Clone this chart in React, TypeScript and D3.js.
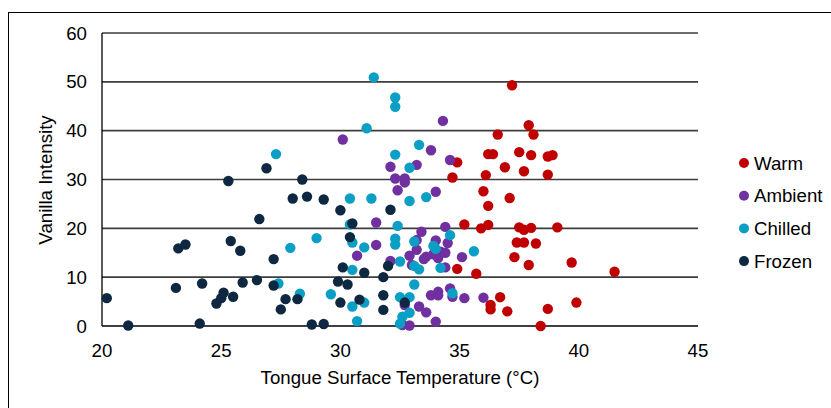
import React from "react";
import * as d3 from "d3";

// temperatures (°C) and vanilla intensity
const warmTemp = [37.2, 37.9, 38.1, 36.6, 36.2, 36.4, 37.5, 38.0, 38.7, 38.9, 34.9, 36.9, 37.7, 34.7, 36.1, 38.7, 36.0, 37.1, 36.2, 35.2, 35.9, 36.2, 37.5, 37.7, 38.0, 39.1, 37.4, 37.7, 38.2, 37.3, 37.9, 39.7, 41.5, 34.9, 35.7, 36.7, 36.3, 36.3, 37.0, 38.7, 39.9, 38.4];
const warmIntensity = [49.3, 41.1, 39.2, 39.2, 35.2, 35.2, 35.6, 35.0, 34.7, 35.0, 33.5, 32.5, 31.7, 30.4, 30.9, 31.0, 27.6, 26.2, 24.6, 20.8, 20.0, 20.7, 20.2, 19.7, 20.1, 20.2, 17.1, 17.1, 16.9, 14.1, 12.5, 13.0, 11.1, 11.7, 10.7, 5.9, 4.3, 3.4, 3.0, 3.5, 4.8, 0.0];

const ambientTemp = [30.1, 33.8, 34.3, 32.1, 33.2, 34.6, 32.3, 32.7, 32.7, 32.4, 34.0, 31.5, 33.4, 34.4, 31.5, 30.7, 32.1, 32.9, 33.2, 33.6, 33.9, 33.0, 33.5, 34.0, 34.5, 34.2, 34.4, 35.1, 34.1, 34.4, 33.8, 34.1, 34.1, 34.6, 34.7, 35.2, 36.0, 32.7, 33.3, 33.6, 34.0, 32.9, 32.6, 33.2];
const ambientIntensity = [38.2, 36.0, 42.0, 32.6, 33.0, 34.0, 30.2, 30.2, 29.4, 27.8, 27.5, 21.2, 19.3, 20.3, 16.6, 14.4, 13.3, 14.4, 15.6, 14.2, 14.7, 12.5, 13.7, 17.5, 17.0, 15.2, 15.0, 14.1, 13.9, 12.0, 6.3, 7.0, 6.3, 7.7, 6.0, 5.7, 5.8, 4.3, 4.0, 2.8, 0.9, 0.1, 0.2, 17.6];

const chilledTemp = [31.4, 32.3, 32.3, 31.1, 27.3, 32.3, 33.3, 32.9, 30.4, 31.3, 32.9, 33.6, 32.4, 29.0, 27.9, 30.5, 31.0, 32.3, 32.3, 30.4, 33.1, 33.9, 34.6, 34.0, 35.6, 32.5, 30.5, 33.1, 33.3, 34.2, 27.4, 29.6, 28.3, 30.5, 31.0, 30.7, 33.1, 32.5, 32.9, 34.7, 32.5, 32.6, 32.9];
const chilledIntensity = [50.9, 46.8, 44.9, 40.5, 35.2, 35.1, 37.1, 32.4, 26.1, 26.1, 25.6, 26.4, 20.5, 18.0, 16.0, 17.1, 16.1, 17.9, 16.7, 20.8, 17.3, 16.4, 18.6, 15.8, 15.3, 13.2, 11.5, 12.3, 11.6, 11.9, 8.7, 6.5, 6.6, 4.0, 4.8, 1.0, 8.5, 5.9, 5.9, 6.7, 0.5, 1.9, 2.7];

const frozenTemp = [20.2, 21.1, 23.1, 23.2, 23.5, 24.1, 24.2, 24.8, 25.0, 25.1, 25.5, 25.4, 25.8, 26.6, 25.9, 26.5, 27.2, 27.2, 25.3, 26.9, 28.4, 28.0, 28.6, 29.3, 30.0, 32.1, 30.5, 30.4, 30.1, 31.0, 32.0, 31.8, 29.9, 30.3, 27.7, 28.2, 27.5, 30.0, 30.8, 31.8, 31.8, 32.7, 28.8, 29.3];
const frozenIntensity = [5.7, 0.1, 7.8, 15.9, 16.7, 0.5, 8.7, 4.6, 5.7, 6.8, 6.0, 17.4, 15.4, 21.9, 8.9, 9.4, 13.7, 8.3, 29.7, 32.3, 30.0, 26.1, 26.5, 25.9, 23.7, 23.8, 21.0, 18.2, 12.0, 10.9, 12.3, 10.0, 9.1, 8.5, 5.5, 5.5, 3.4, 4.8, 5.4, 6.3, 3.3, 4.8, 0.3, 0.4];

const seriesNames = ["Warm", "Ambient", "Chilled", "Frozen"];
const seriesColors = ["#C00000", "#7030A0", "#0C9FC6", "#0E2841"];
const xTicks = [20, 25, 30, 35, 40, 45];
const yTicks = [0, 10, 20, 30, 40, 50, 60];

const W = 831;
const H = 408;
const FONT = "'Liberation Sans', Arial, sans-serif";

export default function App() {
  const x = d3.scaleLinear().domain([20, 45]).range([102, 698]);
  const y = d3.scaleLinear().domain([0, 60]).range([326, 33]);

  const series = [
    [warmTemp, warmIntensity],
    [ambientTemp, ambientIntensity],
    [chilledTemp, chilledIntensity],
    [frozenTemp, frozenIntensity],
  ].map(([xs, ys], i) => ({
    name: seriesNames[i],
    color: seriesColors[i],
    points: d3.zip(xs, ys),
  }));

  return (
    <div style={{ position: "fixed", left: 0, top: 0 }}>
      <svg width={W} height={H} style={{ display: "block", background: "#fff" }} fontFamily={FONT}>
        {/* chart area border, runs past the window */}
        <rect x={8.5} y={12.5} width={1000} height={1000} fill="#fff" stroke="#000" strokeWidth={1} />

        {/* gridlines */}
        {yTicks.slice(1).map((t) => (
          <line key={t} x1={x(20)} x2={x(45)} y1={y(t)} y2={y(t)} stroke="#3d3d3d" strokeWidth={1.6} />
        ))}
        {/* axes */}
        <line x1={x(20)} x2={x(20)} y1={y(60)} y2={y(0)} stroke="#000" strokeWidth={1.3} />
        <line x1={x(20)} x2={x(45)} y1={y(0)} y2={y(0)} stroke="#000" strokeWidth={1.3} />

        {/* tick labels */}
        {yTicks.map((t) => (
          <text key={t} x={87} y={y(t)} dy="0.35em" textAnchor="end" fontSize={18.67} fill="#000">
            {t}
          </text>
        ))}
        {xTicks.map((t) => (
          <text key={t} x={x(t)} y={357} textAnchor="middle" fontSize={18.67} fill="#000">
            {t}
          </text>
        ))}

        {/* axis titles */}
        <text x={400} y={384} textAnchor="middle" fontSize={18.67} fill="#000">
          Tongue Surface Temperature (°C)
        </text>
        <text
          transform={`translate(52,180) rotate(-90)`}
          textAnchor="middle"
          fontSize={18.67}
          fill="#000"
        >
          Vanilla Intensity
        </text>

        {/* points */}
        {series.map((s) => (
          <g key={s.name} fill={s.color}>
            {s.points.map(([a, b], i) => (
              <circle key={i} cx={x(a)} cy={y(b)} r={5.2} />
            ))}
          </g>
        ))}

        {/* legend */}
        {series.map((s, i) => (
          <g key={s.name} transform={`translate(744,${163 + i * 32.7})`}>
            <circle r={5} fill={s.color} />
            <text x={10} dy="0.35em" fontSize={18.67} fill="#000">
              {s.name}
            </text>
          </g>
        ))}
      </svg>
    </div>
  );
}
